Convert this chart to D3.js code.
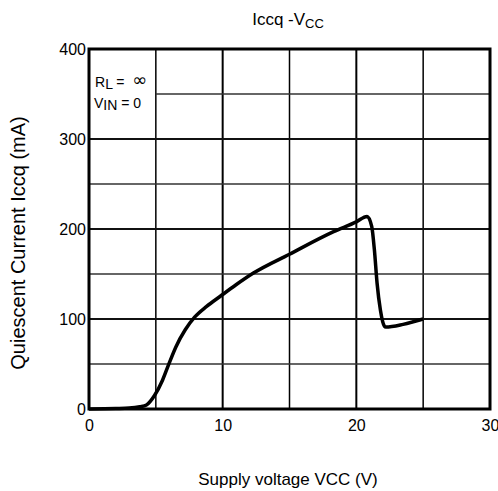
<!DOCTYPE html>
<html lang="en">
<head>
<meta charset="UTF-8">
<title>Iccq - Vcc</title>
<script src="https://d3js.org/d3.v7.min.js"></script>
<style>
  body { margin: 0; background: #fff; font-family: "Liberation Sans", Arial, sans-serif; }
  svg text { fill: #000; }
</style>
</head>
<body>
<div id="chart"></div>
<script>
// curve (V, mA)
const vcc  = [0, 2, 3, 3.8, 4.3, 4.9, 5.5, 6.0, 6.5, 7.2, 7.9, 8.8, 9.8, 11, 12.3, 15, 18.3, 20, 20.8, 21.15, 21.35, 21.55, 21.8, 22.1, 22.2, 23.5, 25];
const iccq = [0, 0.5, 1, 2.5, 4.5, 15, 32, 51, 69, 88, 102, 114, 125, 138, 151, 172, 197, 208, 214, 203, 177, 140, 110, 92, 91, 94, 100];

const xTicks = [0, 10, 20, 30];
const yTicks = [0, 100, 200, 300, 400];
const xMajorGrid = [10, 20];
const xMinorGrid = [5, 15, 25];
const yMajorGrid = [100, 200, 300];
const yMinorGrid = [50, 150, 250];

const W = 498, H = 491;
const margin = { top: 49, right: 8, bottom: 82, left: 89 };
const width = W - margin.left - margin.right;
const height = H - margin.top - margin.bottom;

const svg = d3.select('#chart').append('svg')
    .attr('width', W)
    .attr('height', H);

const g = svg.append('g')
    .attr('transform', `translate(${margin.left},${margin.top})`);

const x = d3.scaleLinear().domain([0, 30]).range([0, width]);
const y = d3.scaleLinear().domain([0, 400]).range([height, 0]);

// grid
g.selectAll('.vmin').data(xMinorGrid).enter().append('line')
    .attr('x1', d => x(d)).attr('x2', d => x(d))
    .attr('y1', 0).attr('y2', height)
    .attr('stroke', '#000').attr('stroke-width', 1.5);
g.selectAll('.vmaj').data(xMajorGrid).enter().append('line')
    .attr('x1', d => x(d)).attr('x2', d => x(d))
    .attr('y1', 0).attr('y2', height)
    .attr('stroke', '#000').attr('stroke-width', 2);
g.selectAll('.hmin').data(yMinorGrid).enter().append('line')
    .attr('x1', 0).attr('x2', width)
    .attr('y1', d => y(d)).attr('y2', d => y(d))
    .attr('stroke', '#333').attr('stroke-width', 1.5);
// the 350 line stops at the legend cell
g.append('line')
    .attr('x1', x(5)).attr('x2', width)
    .attr('y1', y(350)).attr('y2', y(350))
    .attr('stroke', '#333').attr('stroke-width', 1.5);
g.selectAll('.hmaj').data(yMajorGrid).enter().append('line')
    .attr('x1', 0).attr('x2', width)
    .attr('y1', d => y(d)).attr('y2', d => y(d))
    .attr('stroke', '#111').attr('stroke-width', 2);

// frame
g.append('rect')
    .attr('width', width).attr('height', height)
    .attr('fill', 'none').attr('stroke', '#000').attr('stroke-width', 3);

// axes
const yAxis = g.append('g')
    .call(d3.axisLeft(y).tickValues(yTicks).tickSize(0).tickPadding(3));
const xAxis = g.append('g')
    .attr('transform', `translate(0,${height})`)
    .call(d3.axisBottom(x).tickValues(xTicks).tickSize(0).tickPadding(11));
[xAxis, yAxis].forEach(a => {
    a.select('.domain').remove();
    a.selectAll('text')
        .attr('font-family', '"Liberation Sans", Arial, sans-serif')
        .attr('font-size', 16)
        .attr('fill', '#000');
});

// curve
const pts = vcc.map((v, i) => [v, iccq[i]]);
const line = d3.line()
    .x(d => x(d[0]))
    .y(d => y(d[1]))
    .curve(d3.curveMonotoneX);
g.append('path')
    .datum(pts)
    .attr('d', line)
    .attr('fill', 'none')
    .attr('stroke', '#000')
    .attr('stroke-width', 3.5)
    .attr('stroke-linejoin', 'round');

// legend
const leg1 = g.append('text')
    .attr('x', 6).attr('y', 38)
    .attr('font-size', 14);
leg1.append('tspan').text('R');
leg1.append('tspan').attr('dy', 2).text('L');
leg1.append('tspan').attr('dy', -2).text(' =\u00A0\u00A0');
leg1.append('tspan')
    .attr('font-family', '"DejaVu Sans", sans-serif')
    .attr('font-size', 18)
    .attr('dy', -1)
    .text('\u221E');

const leg2 = g.append('text')
    .attr('x', 5).attr('y', 59)
    .attr('font-size', 14);
leg2.append('tspan').text('V');
leg2.append('tspan').attr('dy', 2).text('IN');
leg2.append('tspan').attr('dy', -2).text(' = 0');

// title
const title = svg.append('text')
    .attr('x', 288).attr('y', 25)
    .attr('text-anchor', 'middle')
    .attr('font-size', 17);
title.append('tspan').text('Iccq -V');
title.append('tspan').attr('dy', 3).attr('font-size', 13).text('CC');

// axis labels
svg.append('text')
    .attr('x', 288).attr('y', 485)
    .attr('text-anchor', 'middle')
    .attr('font-size', 17)
    .text('Supply voltage VCC (V)');

svg.append('text')
    .attr('transform', 'translate(25,243) rotate(-90)')
    .attr('text-anchor', 'middle')
    .attr('font-size', 20)
    .text('Quiescent Current Iccq (mA)');
</script>
</body>
</html>
